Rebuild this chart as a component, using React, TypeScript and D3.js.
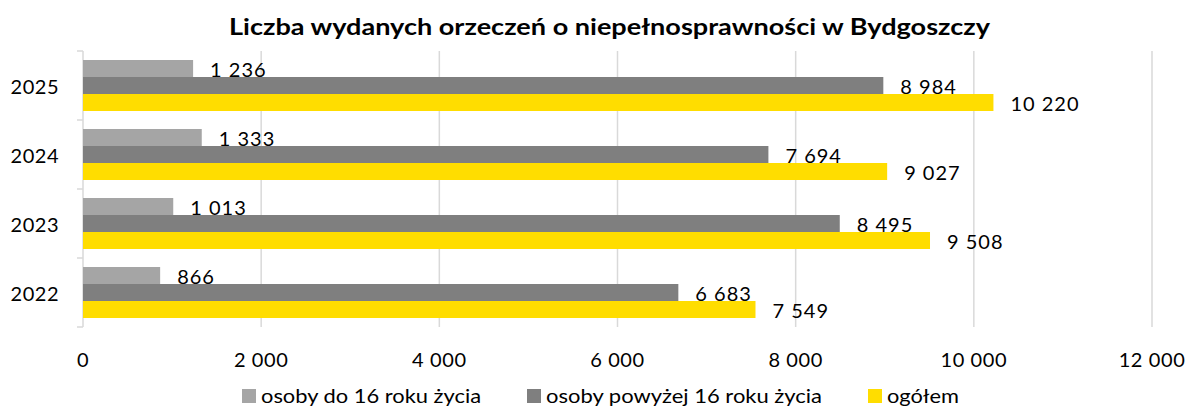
import React from "react";
import * as d3 from "d3";

const years = ["2025", "2024", "2023", "2022"];
const seriesNames = ["osoby do 16 roku życia", "osoby powyżej 16 roku życia", "ogółem"];
const under16 = [1236, 1333, 1013, 866];
const over16 = [8984, 7694, 8495, 6683];
const total = [10220, 9027, 9508, 7549];
const xTicks = [0, 2000, 4000, 6000, 8000, 10000, 12000];
const colors = ["#a5a5a5", "#7f7f7f", "#ffdd00"];
const title = "Liczba wydanych orzeczeń o niepełnosprawności w Bydgoszczy";

const W = 1191;
const H = 406;
const FONT = "Lato, 'Open Sans', sans-serif";

const fmt = (v: number) => d3.format(",")(v).replace(/,/g, " ");

export default function App() {
  const x = d3.scaleLinear().domain([0, 12000]).range([83, 1152]);
  const y = d3.scaleBand<string>().domain(years).range([51, 327]).paddingInner(0).paddingOuter(0);
  const bw = y.bandwidth();
  const ySub = d3.scaleBand<string>().domain(seriesNames).range([9, bw - 9]);
  const data = [under16, over16, total];
  const legendX = [242, 527, 868];
  const legendW = [220, 276, 72];

  return (
    <svg width={W} height={H} style={{ position: "absolute", left: 0, top: 0, background: "#fff" }} fontFamily={FONT}>
      <text x={229} y={35} fontWeight="bold" fontSize={23} fill="#000" textLength={761} lengthAdjust="spacingAndGlyphs">{title}</text>
      {xTicks.slice(1).map((t) => (
        <line key={"g" + t} x1={x(t)} x2={x(t)} y1={51} y2={327} stroke="#d9d9d9" strokeWidth={1.5} />
      ))}
      <line x1={x(0)} x2={x(0)} y1={51} y2={327} stroke="#d9d9d9" strokeWidth={1.5} />
      {[...years.map((yr) => y(yr)!), 327].map((b, i) => (
        <line key={"t" + i} x1={x(0) - 6} x2={x(0)} y1={b} y2={b} stroke="#d9d9d9" strokeWidth={1.5} />
      ))}
      {years.map((yr, i) => (
        <g key={yr}>
          <text x={59} y={y(yr)! + bw / 2 + 8.5} textAnchor="end" fontSize={20} letterSpacing={0.5} fill="#000">{yr}</text>
          {seriesNames.map((s, j) => {
            const v = data[j][i];
            const by = y(yr)! + ySub(s)!;
            const bh = ySub.bandwidth();
            return (
              <g key={s}>
                <rect x={x(0)} y={by} width={x(v) - x(0)} height={bh} fill={colors[j]} />
                <text x={x(v) + 17} y={by + bh / 2 + 8.5} fontSize={20} letterSpacing={1} fill="#000">{fmt(v)}</text>
              </g>
            );
          })}
        </g>
      ))}
      {xTicks.map((t) => (
        <text key={"l" + t} x={x(t)} y={367} textAnchor="middle" fontSize={20} letterSpacing={0.6} fill="#000">{fmt(t)}</text>
      ))}
      {seriesNames.map((s, j) => (
        <g key={"lg" + s}>
          <rect x={legendX[j]} y={389} width={14} height={14} fill={colors[j]} />
          <text x={legendX[j] + 19} y={403} fontSize={20} fill="#000" textLength={legendW[j]} lengthAdjust="spacingAndGlyphs">{s}</text>
        </g>
      ))}
    </svg>
  );
}
